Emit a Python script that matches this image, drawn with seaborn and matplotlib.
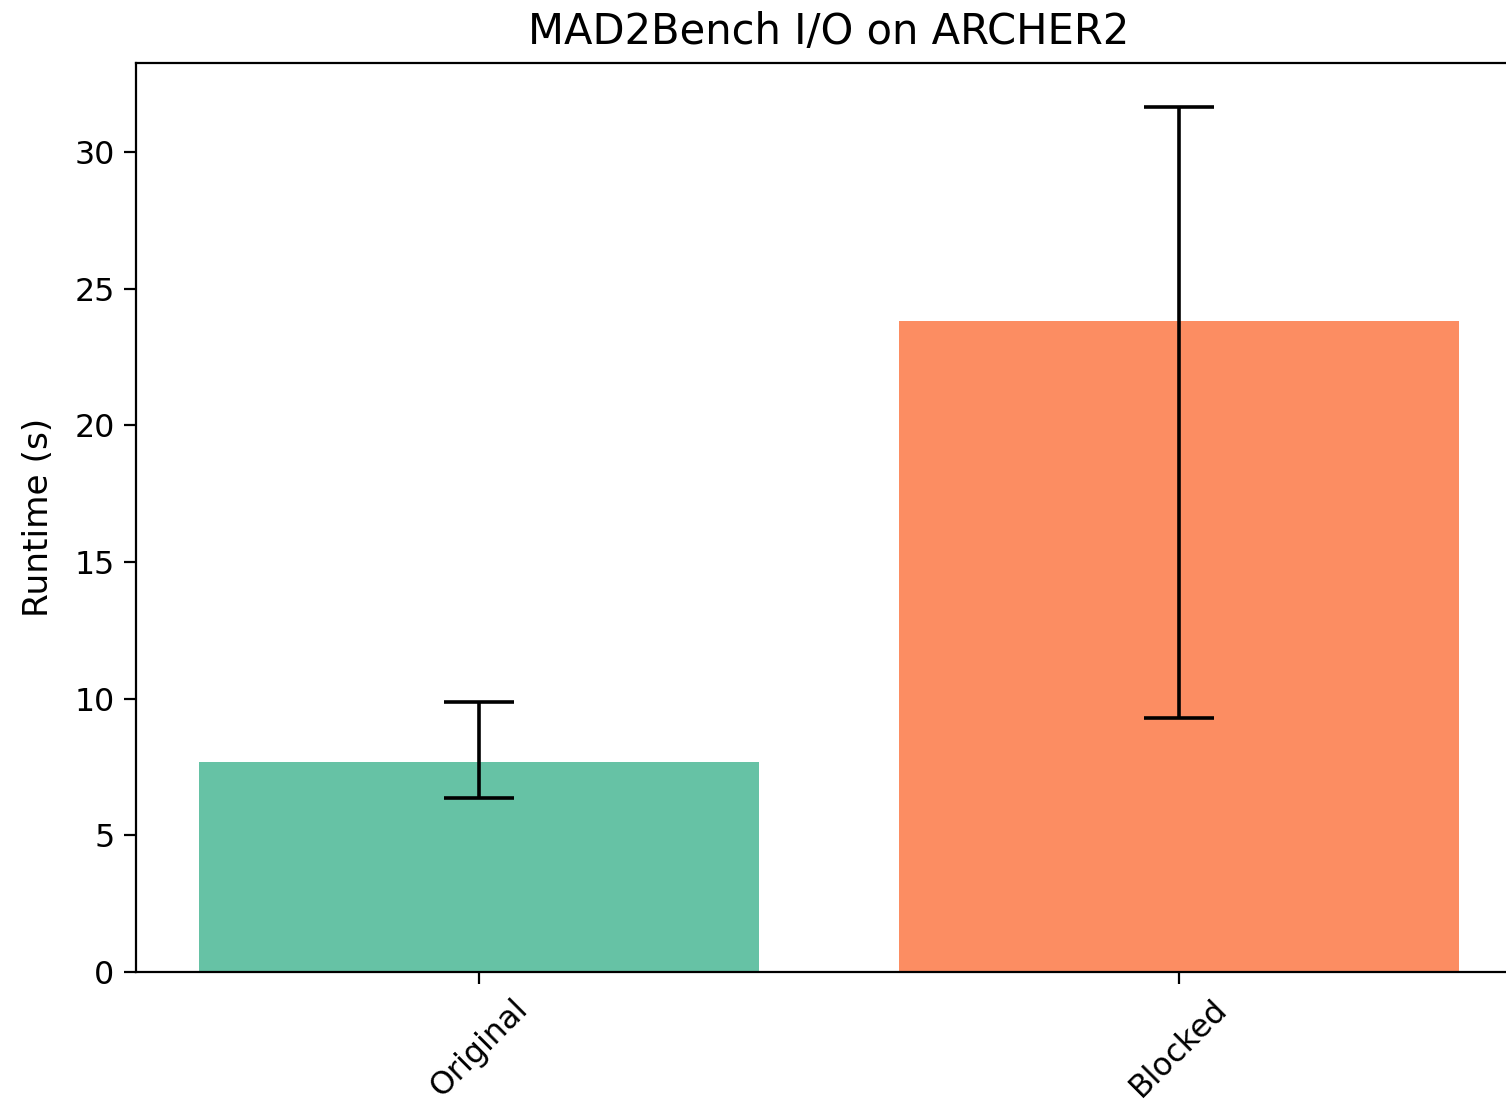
import matplotlib
matplotlib.use("Agg")
import matplotlib.pyplot as plt
import seaborn as sns
import numpy as np

# Mean runtimes and the lower/upper ends of their error bars (seconds)
categories = ["Original", "Blocked"]
runtime_mean = [7.70, 23.82]
runtime_low = [6.37, 9.30]
runtime_high = [9.86, 31.66]

colors = sns.color_palette("Set2", 2)

fig = plt.figure(figsize=(7.53, 5.56), dpi=200)
ax = fig.add_axes([0.0903, 0.1259, 0.920, 0.8174])

sns.barplot(x=categories, y=runtime_mean, hue=categories, palette=colors,
            saturation=1, linewidth=0, width=0.8, legend=False, ax=ax)

mean = np.array(runtime_mean)
yerr = [mean - np.array(runtime_low), np.array(runtime_high) - mean]
ax.errorbar(x=np.arange(len(categories)), y=mean, yerr=yerr, fmt="none",
            ecolor="black", elinewidth=1.3, capsize=12.6, capthick=1.3, zorder=3)

ax.set_xlim(-0.49, 1.49)
ax.set_ylim(0, 33.25)
ax.set_yticks([0, 5, 10, 15, 20, 25, 30])
ax.tick_params(axis="both", labelsize=11.4, length=4.2)
plt.setp(ax.get_xticklabels(), rotation=45, ha="center")
ax.set_xlabel("")
ax.set_ylabel("Runtime (s)", fontsize=12.4, labelpad=7)
ax.set_title("MAD2Bench I/O on ARCHER2", fontsize=15, pad=7)

fig.savefig("out.png", dpi=200)
